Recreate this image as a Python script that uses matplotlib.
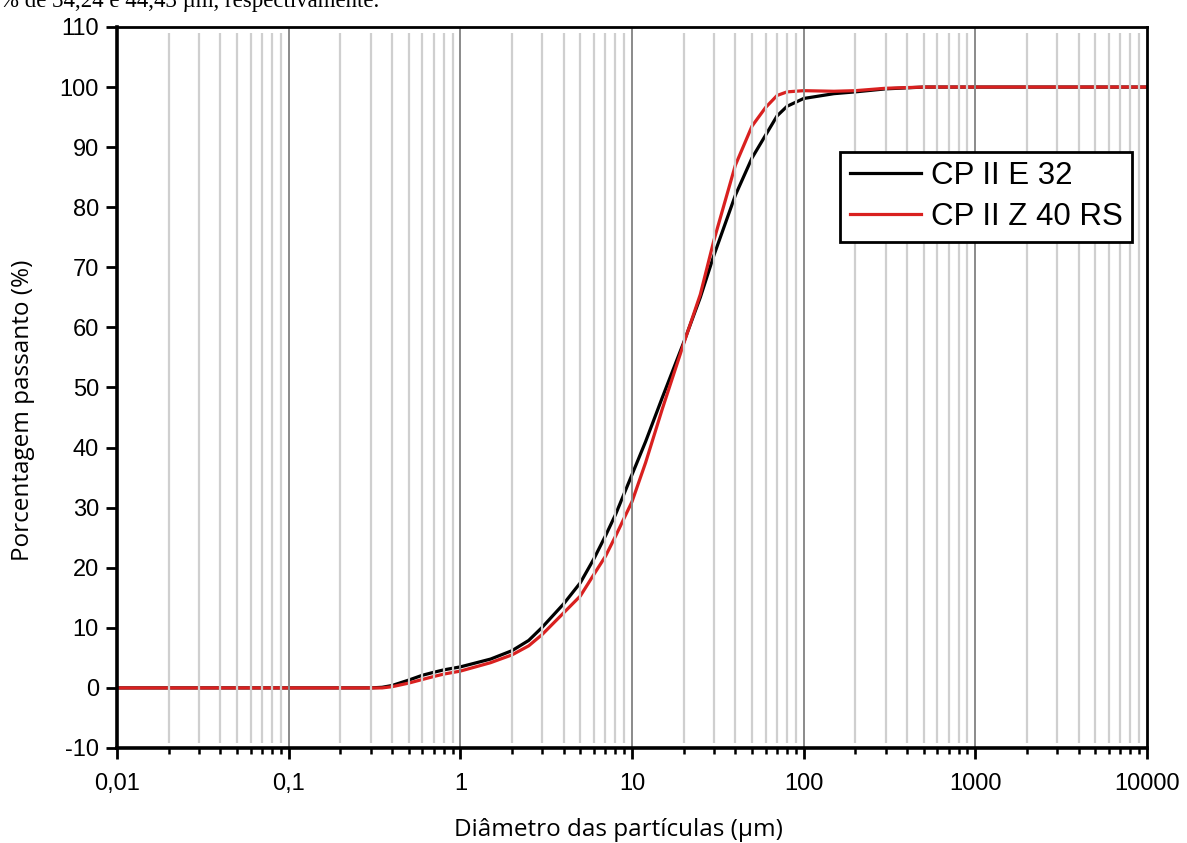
import numpy as np
import matplotlib.pyplot as plt
from matplotlib.ticker import FixedLocator, FixedFormatter, NullFormatter

plt.rcParams["axes.unicode_minus"] = False

# diametro (um) e % passante
diam = [0.01, 0.1, 0.3, 0.35, 0.4, 0.5, 0.6, 0.7, 0.8, 1, 1.5, 2, 2.5, 3, 4, 5,
        6, 7, 8, 10, 12, 15, 20, 25, 30, 40, 50, 60, 70, 80, 100, 150, 200,
        300, 500, 1000, 10000]
cp2e32 = [0, 0, 0, 0.1, 0.4, 1.3, 2.1, 2.6, 3.0, 3.5, 4.8, 6.2, 7.9, 10.1, 14.0,
          17.5, 21.5, 25.3, 28.8, 35.5, 41.0, 48.3, 57.5, 65.0, 72.0, 82.0,
          88.2, 92.0, 95.2, 96.8, 98.1, 98.9, 99.2, 99.7, 100, 100, 100]
cp2z40 = [0, 0, 0, 0, 0.2, 0.8, 1.4, 1.9, 2.3, 2.8, 4.2, 5.5, 7.0, 8.9, 12.5,
          15.3, 18.9, 21.9, 25.2, 31.0, 37.5, 46.4, 57.3, 65.5, 74.5, 87.0,
          93.5, 96.6, 98.6, 99.2, 99.4, 99.3, 99.4, 99.8, 100, 100, 100]

xticks = [0.01, 0.1, 1, 10, 100, 1000, 10000]
xlabels = ["0,01", "0,1", "1", "10", "100", "1000", "10000"]
yticks = list(range(-10, 111, 10))

fig = plt.figure(figsize=(11.87, 8.43), dpi=100)
ax = fig.add_axes([0.0986, 0.1127, 0.8677, 0.8553])

ax.plot(diam, cp2e32, color="black", lw=2.3, label="CP II E 32", zorder=2)
ax.plot(diam, cp2z40, color="#d9201f", lw=2.3, label="CP II Z 40 RS", zorder=2)

ax.set_xscale("log")
ax.set_xlim(0.01, 10000)
ax.set_ylim(-10, 110)

minors = [m * 10.0 ** e for e in range(-2, 4) for m in range(2, 10)]
ax.xaxis.set_major_locator(FixedLocator(xticks))
ax.xaxis.set_major_formatter(FixedFormatter(xlabels))
ax.xaxis.set_minor_locator(FixedLocator(minors))
ax.xaxis.set_minor_formatter(NullFormatter())
ax.set_yticks(yticks)

# linhas de grade verticais
ax.vlines(minors, -9.2, 109, color="#cfcfcf", lw=1.6, zorder=2.5)
ax.vlines(xticks[1:-1], -10, 110, color="#8a8a8a", lw=1.4, zorder=2.5)

for s in ax.spines.values():
    s.set_linewidth(2.0)
ax.spines["left"].set_linewidth(2.6)
ax.spines["bottom"].set_linewidth(2.6)

font = ["Liberation Sans", "DejaVu Sans"]
ax.tick_params(axis="both", which="major", direction="out", length=8, width=2,
               labelsize=17, pad=5)
ax.tick_params(axis="x", which="major", pad=10)
ax.tick_params(axis="x", which="minor", direction="out", length=4.5, width=1.8)
for lab in ax.get_xticklabels() + ax.get_yticklabels():
    lab.set_family(font)

leg = ax.legend(loc="upper right", bbox_to_anchor=(0.9854, 0.8266),
                borderaxespad=0, fancybox=False, edgecolor="black",
                prop={"family": font, "size": 22.5}, handlelength=2.3,
                handletextpad=0.3, labelspacing=0.35, borderpad=0.3)
leg.get_frame().set_linewidth(2.0)
leg.get_frame().set_alpha(1)

lblfont = ["Open Sans", "DejaVu Sans"]
fig.text(0.5206, 1 - 836 / 843, "Diâmetro das partículas (µm)", ha="center",
         va="baseline", fontsize=17.5, family=lblfont)
fig.text(23 / 1187, 1 - 410 / 843, "Porcentagem passanto (%)", ha="center",
         va="center", rotation=90, fontsize=17.5, family=lblfont)

# linha de texto cortada no topo
fig.text(0.0, 1 - 7 / 843, "% de 34,24 e 44,43 µm, respectivamente.",
         ha="left", va="baseline", fontsize=16.5,
         family=["Liberation Serif", "DejaVu Serif"])

fig.savefig("out.png", dpi=100)
